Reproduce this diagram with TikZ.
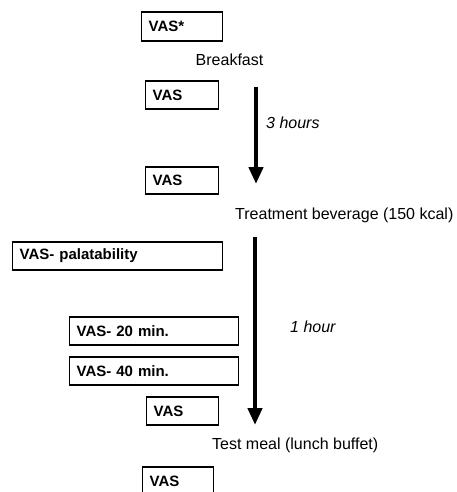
\documentclass[tikz,border=0pt]{standalone}
\usepackage{fontspec}
\setmainfont{Liberation Sans}
\usetikzlibrary{arrows.meta}
\tikzset{
  vasbox/.style={draw, line width=1.3pt, anchor=west, inner xsep=7pt, inner ysep=0pt,
    align=left, font=\fontsize{15}{18}\selectfont\bfseries},
  lbl/.style={inner sep=0pt, font=\fontsize{16}{19}\selectfont},
  ilbl/.style={inner sep=0pt, font=\fontsize{16}{19}\selectfont\itshape},
  timearrow/.style={line width=4.5pt, -{Triangle[width=14pt,length=17pt]}}
}
\begin{document}
\begin{tikzpicture}[x=1pt,y=-1pt]
\useasboundingbox (0,0) rectangle (457,492);
\node[vasbox, text width=67pt, minimum height=29pt] (v0) at (141,26.5) {VAS*};
\node[lbl] (bf) at (229.5,60) {Breakfast};
\node[vasbox, text width=59pt, minimum height=28pt] (v1) at (145,95) {VAS};
\coordinate (a1s) at (256,87);
\coordinate (a1e) at (256,184);
\draw[timearrow] (a1s) -- (a1e);
\node[ilbl, anchor=west] (h3) at (266,123) {3 hours};
\node[vasbox, text width=59pt, minimum height=27pt] (v2) at (145,180.5) {VAS};
\node[lbl, anchor=west] (tb) at (235,215) {Treatment beverage (150 kcal)};
\coordinate (a2s) at (255,237);
\coordinate (a2e) at (255,425);
\draw[timearrow] (a2s) -- (a2e);
\node[vasbox, text width=196pt, minimum height=28pt] (vp) at (12,256) {VAS- palatability};
\node[ilbl, anchor=west] (h1) at (290,327) {1 hour};
\node[vasbox, text width=155pt, minimum height=28pt] (v20) at (69,331) {VAS- 20 min.};
\node[vasbox, text width=155pt, minimum height=28pt] (v40) at (69,371) {VAS- 40 min.};
\node[vasbox, text width=58pt, minimum height=28pt] (v3) at (146,411) {VAS};
\node[lbl, anchor=west] (tm) at (212,445) {Test meal (lunch buffet)};
\node[vasbox, text width=57pt, minimum height=28pt] (v4) at (142,481) {VAS};
\end{tikzpicture}
\end{document}
